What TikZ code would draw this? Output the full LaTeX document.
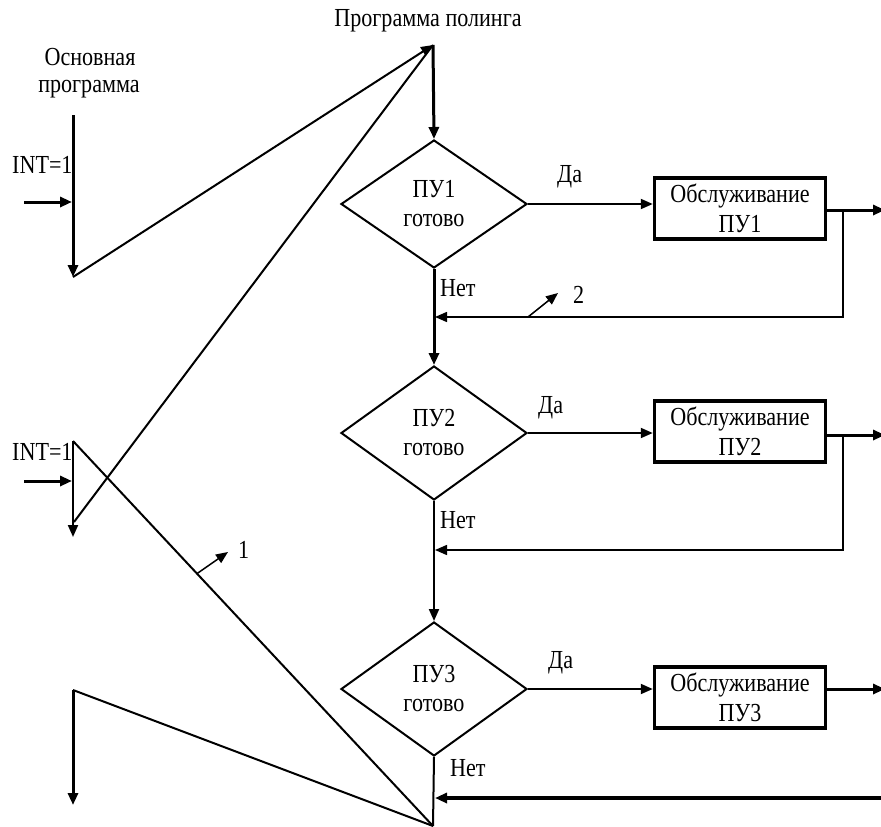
\documentclass[tikz,border=0pt]{standalone}
\usepackage{fontspec}
\setmainfont{Liberation Serif}[FakeStretch=0.85]
\usetikzlibrary{arrows.meta,shapes.geometric}
\begin{document}
\begin{tikzpicture}[x=1pt,y=-1pt,
  font=\fontsize{26}{29}\selectfont,
  tip/.style={-{Triangle[length=12pt,width=10pt]}},
  dia/.style={diamond, draw, line width=2pt, minimum width=186pt, inner sep=0pt, align=center},
  pbox/.style={draw, line width=3.5pt, minimum width=171pt, minimum height=61pt, inner sep=0pt, align=center, font=\fontsize{26}{30}\selectfont},
  wthick/.style={line width=3pt},
  wmed/.style={line width=2pt},
  wthin/.style={line width=1.5pt},
  lbl/.style={inner sep=0pt, anchor=base west},
  lblc/.style={inner sep=0pt, anchor=base}]
\useasboundingbox (0,0) rectangle (881,827);

% titles
\node[lblc] (tpoll) at (428,27) {Программа полинга};
\node[lblc] (tmain1) at (90,65) {Основная};
\node[lblc] (tmain2) at (89,92) {программа};

% diamonds
\node[dia, minimum height=128pt] (d1) at (434,204) {ПУ1\\готово};
\node[dia, minimum height=134pt] (d2) at (434,433) {ПУ2\\готово};
\node[dia, minimum height=134pt] (d3) at (434,689) {ПУ3\\готово};

% boxes
\node[pbox] (b1) at (740,208.5) {Обслуживание\\ПУ1};
\node[pbox] (b2) at (740,431.5) {Обслуживание\\ПУ2};
\node[pbox] (b3) at (740,697.5) {Обслуживание\\ПУ3};

% labels
\node[lbl] (da1) at (557,182) {Да};
\node[lbl] (da2) at (538,413) {Да};
\node[lbl] (da3) at (548,668) {Да};
\node[lbl] (net1) at (440,296) {Нет};
\node[lbl] (net2) at (440,528) {Нет};
\node[lbl] (net3) at (450,776) {Нет};
\node[lbl] (lab2) at (573,303) {2};
\node[lbl] (lab1) at (238,558) {1};
\node[lbl] (int1) at (12,173) {INT=1};
\node[lbl] (int2) at (12,460) {INT=1};

% coordinates
\coordinate (A) at (433,45);
\coordinate (P) at (433,826);
\coordinate (m1top) at (73,115);
\coordinate (m1bot) at (73,277);
\coordinate (m2top) at (73,441);
\coordinate (m2bot) at (73,537);
\coordinate (m2end) at (74,522);
\coordinate (m3top) at (73,690);
\coordinate (m3bot) at (73,805);
\coordinate (i1s) at (24,202);
\coordinate (i1e) at (72,202);
\coordinate (i2s) at (24,481);
\coordinate (i2e) at (72,481);
\coordinate (o1) at (885,210);
\coordinate (o2) at (885,435);
\coordinate (o3) at (885,690);
\coordinate (br1) at (843,210);
\coordinate (br2) at (843,435);
\coordinate (r1) at (435,317);
\coordinate (r2) at (435,550);
\coordinate (r3s) at (885,798);
\coordinate (r3) at (435,798);
\coordinate (t2s) at (528,317);
\coordinate (t2e) at (558,293);
\coordinate (t1s) at (197,573.6);
\coordinate (t1e) at (228,552);

% main program (left)
\draw[wthick,tip] (m1top) -- (m1bot);
\draw[wthick,tip] (i1s) -- (i1e);
\draw[wmed,tip] (m1bot) -- (A);
\draw[wthick,tip] (A) -- (d1.north);

\draw[wmed,tip] (m2top) -- (m2bot);
\draw[wthick,tip] (i2s) -- (i2e);
\draw[wmed] (A) -- (m2end);
\draw[wmed] (m2top) -- (P);
\draw[wthin,tip] (t1s) -- (t1e);

\draw[wthick,tip] (m3top) -- (m3bot);
\draw[wmed] (m3top) -- (P);

% polling chain
\draw[wmed,tip] (d1.east) -- (b1.west |- d1.east);
\draw[wmed,tip] (d2.east) -- (b2.west |- d2.east);
\draw[wmed,tip] (d3.east) -- (b3.west |- d3.east);

\draw[wthick,tip] (b1.east |- o1) -- (o1);
\draw[wthick,tip] (b2.east |- o2) -- (o2);
\draw[wthick,tip] (b3.east |- d3.east) -- (o3 |- d3.east);

\draw[wthin,tip] (br1) |- (r1);
\draw[wthin,tip] (br2) |- (r2);
\draw[wthin,tip] (t2s) -- (t2e);

\draw[wthick,tip] (d1.south) -- (d2.north);
\draw[wmed,tip] (d2.south) -- (d3.north);
\draw[wmed] (d3.south) -- (P);
\draw[line width=4pt,tip] (r3s) -- (r3);
\end{tikzpicture}
\end{document}
